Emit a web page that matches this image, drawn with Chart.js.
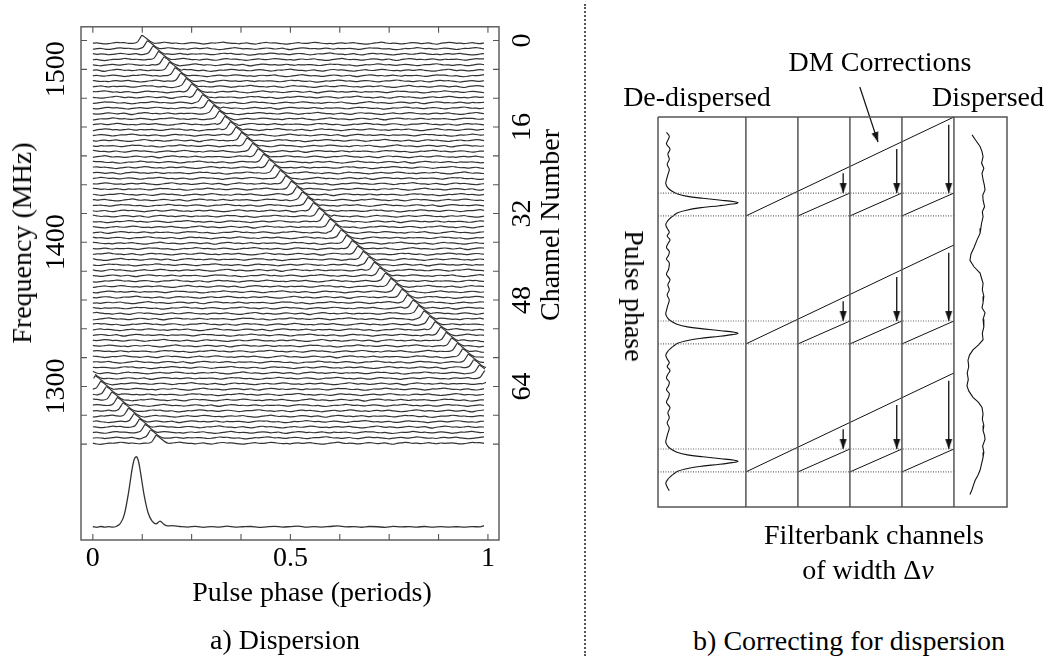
<!DOCTYPE html>
<html>
<head>
<meta charset="utf-8">
<script src="https://cdn.jsdelivr.net/npm/chart.js@4.4.1/dist/chart.umd.min.js"></script>
<style>
body { margin: 0; background: #fff; width: 1048px; height: 656px; position: relative; overflow: hidden;
       font-family: "Liberation Serif", "DejaVu Serif", serif; color: #000; }
.lbl { position: absolute; font-size: 28px; line-height: 1; white-space: nowrap; transform: translate(-50%, -50%); }
.up { transform: translate(-50%, -50%) rotate(-90deg); }
.down { transform: translate(-50%, -50%) rotate(90deg); }
#left { position: absolute; left: 0; top: 0; }
#right { position: absolute; left: 630px; top: 40px; }
#sep { position: absolute; left: 584px; top: 4px; height: 652px; border-left: 2px dotted #555; }
</style>
</head>
<body>
<canvas id="left" width="580" height="580"></canvas>
<canvas id="right" width="400" height="490"></canvas>
<div id="sep"></div>

<div class="lbl up" style="left:22px; top:243px;">Frequency (MHz)</div>
<div class="lbl up" style="left:550px; top:225px;">Channel Number</div>
<div class="lbl" style="left:312px; top:592px;">Pulse phase (periods)</div>
<div class="lbl" style="left:285px; top:640px;">a) Dispersion</div>

<div class="lbl" style="left:880px; top:62px;">DM Corrections</div>
<div class="lbl" style="left:697px; top:97px;">De-dispersed</div>
<div class="lbl" style="left:988px; top:97px;">Dispersed</div>
<div class="lbl down" style="left:634px; top:296px;">Pulse phase</div>
<div class="lbl" style="left:874px; top:535px;">Filterbank channels</div>
<div class="lbl" style="left:868px; top:570px;">of width &Delta;<i>v</i></div>
<div class="lbl" style="left:849px; top:641px;">b) Correcting for dispersion</div>

<script>
// ---- panel a: dispersed pulse in each filterbank channel ----

// phase of the pulse peak in channels 0..74 (wraps after phase 1)
const pulsePhase = [
    0.124, 0.138, 0.152, 0.166, 0.180, 0.194, 0.208, 0.222, 0.236, 0.250,
    0.264, 0.278, 0.292, 0.306, 0.320, 0.334, 0.348, 0.362, 0.376, 0.390,
    0.404, 0.418, 0.432, 0.446, 0.460, 0.474, 0.488, 0.502, 0.516, 0.530,
    0.544, 0.558, 0.572, 0.586, 0.600, 0.614, 0.628, 0.642, 0.656, 0.670,
    0.684, 0.698, 0.712, 0.726, 0.740, 0.754, 0.768, 0.782, 0.796, 0.810,
    0.824, 0.838, 0.852, 0.866, 0.880, 0.894, 0.908, 0.922, 0.936, 0.950,
    0.964, 0.978, 0.992, 0.006, 0.020, 0.034, 0.048, 0.062, 0.076, 0.090,
    0.104, 0.118, 0.132, 0.146, 0.160
];

// single channel pulse (phase offset from peak, height in channel spacings)
const pulseOffset = [-0.020, -0.011, -0.004, 0, 0.006, 0.014, 0.022, 0.031];
const pulseHeight = [0.0, 0.25, 1.0, 1.45, 1.2, 0.75, 0.3, 0.0];

// hand read baseline wiggle, reused with a shift for every channel
const noise = [
    0.02, 0.05, -0.03, -0.12, -0.08, 0.04, 0.15, 0.09, 0.11, -0.02, -0.06, 0.01, -0.14, -0.20,
    -0.10, 0.03, 0.00, 0.07, 0.18, 0.12, -0.01, 0.04, -0.05, -0.09, 0.02, 0.10, 0.06, -0.04,
    -0.16, -0.07, 0.05, 0.03, 0.12, 0.20, 0.08, -0.03, -0.01, -0.11, 0.00, 0.06, -0.08, -0.15,
    -0.05, 0.09, 0.14, 0.04, 0.07, -0.02, -0.10, -0.18, -0.06, 0.02, 0.10, 0.00, -0.04, 0.06,
    0.16, 0.11, 0.00, -0.08, -0.03, -0.12, 0.03, 0.08, -0.01, 0.05, 0.13, -0.02, -0.09, -0.17,
    -0.11, 0.01, 0.09, 0.19, 0.07, -0.05, 0.02, -0.03, -0.13, -0.06, 0.04, 0.12, 0.05, -0.07,
    0.00, 0.08, -0.10, -0.19, -0.04, 0.06, 0.15, 0.10, -0.02, 0.03, -0.06, 0.01, 0.11, 0.00,
    -0.09, 0.04, -0.01
];

// de-dispersed (summed) profile at the bottom
const sumPhase = [
    0, 0.01, 0.02, 0.03, 0.04, 0.05, 0.06, 0.07, 0.08, 0.09, 0.10, 0.105, 0.11, 0.115, 0.12,
    0.13, 0.14, 0.15, 0.16, 0.17, 0.18, 0.19, 0.20,
    0.22, 0.24, 0.26, 0.28, 0.30, 0.32, 0.34, 0.36, 0.38, 0.40, 0.42, 0.44, 0.46, 0.48, 0.50,
    0.52, 0.54, 0.56, 0.58, 0.60, 0.62, 0.64, 0.66, 0.68, 0.70, 0.72, 0.74, 0.76, 0.78, 0.80,
    0.82, 0.84, 0.86, 0.88, 0.90, 0.92, 0.94, 0.96, 0.98, 0.99
];
const sumHeight = [
    0.05, -0.05, 0.10, 0.00, 0.08, -0.02, 0.15, 0.7, 2.4, 6.2, 11.0, 12.6, 13.0, 12.3, 10.4,
    5.8, 2.6, 1.1, 0.6, 1.1, 0.5, 0.2, 0.25,
    0.10, 0.00, 0.12, -0.05, 0.08, 0.00, 0.15, -0.03, 0.05, 0.10, -0.06, 0.04, 0.12, 0.00, 0.08,
    0.18, -0.02, 0.06, 0.00, 0.10, 0.20, 0.02, 0.08, -0.04, 0.10, 0.05, -0.05, 0.12, 0.03, 0.08,
    0.00, 0.10, -0.03, 0.06, 0.00, 0.05, -0.02, 0.08, 0.02, 0.25
];

const phaseTicks = [0, 0.125, 0.25, 0.375, 0.5, 0.625, 0.75, 0.875, 1];
const phaseTickLabels = ['0', '', '', '', '0.5', '', '', '', '1'];
const channelTicks = [0, 5.33, 10.67, 16, 21.33, 26.67, 32, 37.33, 42.67, 48, 53.33, 58.67, 64, 69.33, 74.67];
const freqTickLabels = ['', '1500', '', '', '', '', '', '1400', '', '', '', '', '1300', '', ''];
const channelTickLabels = ['0', '', '', '16', '', '', '32', '', '', '48', '', '', '64', '', ''];

// ---- panel b: schematic, x in filterbank channels, y in pulse periods ----
const boxEdges = { left: -1.69, right: 5.02, top: 0, bottom: 3.047 };
const channelEdges = [0, 1, 2, 3, 4];
const periods = [0, 1, 2];
const pulseWindow = [0.594, 0.773];          // dotted lines, phase within a period
const arrowChannelX = [1.87, 2.9, 3.9];
const arrowStart = [0.44, 0.25, 0.06];
const dmArrow = [{ x: 2.19, y: -0.234 }, { x: 2.54, y: 0.195 }];

// de-dispersed profile, one period around the peak
const dedispPeaks = [-0.32, 0.67, 1.69, 2.69];
const dedispOffset = [
    -0.5, -0.46, -0.42, -0.38, -0.34, -0.3, -0.26, -0.22, -0.18, -0.15, -0.117, -0.09, -0.07,
    -0.05, -0.035, -0.02, -0.008, 0, 0.01, 0.023, 0.04, 0.06, 0.078, 0.1, 0.117, 0.14, 0.17,
    0.2, 0.23, 0.26, 0.29, 0.32, 0.35, 0.38, 0.41, 0.44, 0.47
];
const dedispFlux = [
    0.01, -0.02, 0.03, 0.00, 0.02, -0.01, 0.02, 0.00, -0.02, -0.03, 0.00, 0.06, 0.13,
    0.28, 0.50, 0.76, 0.95, 1.00, 0.92, 0.74, 0.45, 0.25, 0.14, 0.08, 0.04, 0.00, -0.03,
    -0.01, 0.02, -0.01, 0.03, 0.00, -0.02, 0.02, 0.01, -0.02, 0.02
];

// dispersed profile
const dispPhase = [
    0.14, 0.18, 0.23, 0.27, 0.31, 0.36, 0.40, 0.44, 0.49, 0.53, 0.57, 0.61, 0.65, 0.70, 0.74, 0.78,
    0.83, 0.87, 0.91, 0.96, 1.02, 1.07, 1.12, 1.17, 1.22, 1.26, 1.30, 1.35, 1.40, 1.45, 1.49, 1.53,
    1.58, 1.64, 1.69, 1.74, 1.78, 1.82, 1.86, 1.90, 1.95, 2.00, 2.05, 2.10, 2.14, 2.19, 2.23, 2.27,
    2.32, 2.36, 2.41, 2.45, 2.49, 2.52, 2.57, 2.62, 2.66, 2.71, 2.76, 2.80, 2.84, 2.88, 2.91, 2.95
];
const dispFlux = [
    0.27, 0.50, 0.80, 0.93, 1.00, 0.90, 1.05, 0.93, 1.00, 1.08, 1.13, 0.98, 1.00, 1.10, 0.95, 1.00,
    0.90, 0.85, 0.80, 0.60, 0.40, 0.20, 0.13, 0.40, 0.80, 0.90, 1.00, 0.95, 1.05, 1.00, 0.93, 1.13,
    1.00, 1.05, 0.95, 1.00, 0.70, 0.33, 0.10, 0.00, 0.05, -0.05, 0.02, -0.07, 0.05, 0.33, 0.70, 0.93,
    1.00, 0.95, 1.05, 1.00, 1.10, 1.13, 0.97, 1.05, 1.00, 0.90, 0.80, 0.65, 0.47, 0.35, 0.27, 0.13
];


const serif = 'Liberation Serif';
const traceColor = '#333';

// every channel: wiggly baseline with the pulse dropped in at its phase
const binCount = 100;
const traceSets = pulsePhase.map((peak, ch) => {
    const pts = [];
    const lo = pulseOffset[0] - 0.004;
    const hi = pulseOffset[pulseOffset.length - 1] + 0.004;
    for (let i = 0; i < binCount; i++) {
        const p = i / binCount;
        let d = p - peak;
        if (d > 0.5) d -= 1;
        if (d < -0.5) d += 1;
        if (d > lo && d < hi) continue;
        pts.push({ x: p, y: ch + 0.5 - noise[(i + ch * 37) % noise.length] });
    }
    pulseOffset.forEach((o, j) => {
        let p = peak + o;
        if (p >= 1) p -= 1;
        if (p < 0) p += 1;
        if (p > 0.995) return;
        pts.push({ x: p, y: ch + 0.5 - pulseHeight[j] });
    });
    pts.sort((a, b) => a.x - b.x);
    return {
        data: pts,
        borderColor: traceColor,
        borderWidth: 1.2,
        pointRadius: 0,
        tension: 0.2,
        fill: false
    };
});

const sumBaseline = 90.0;
const sumSet = {
    data: sumPhase.map((p, i) => ({ x: p, y: sumBaseline - sumHeight[i] })),
    borderColor: traceColor,
    borderWidth: 1.3,
    pointRadius: 0,
    cubicInterpolationMode: 'monotone',
    fill: false
};

// frame plus inward ticks, like the original plot
const frameTicks = {
    id: 'frameTicks',
    afterDraw(chart) {
        const { ctx, chartArea: a, scales } = chart;
        ctx.save();
        ctx.strokeStyle = '#555';
        ctx.lineWidth = 1.4;
        ctx.strokeRect(a.left, a.top, a.right - a.left, a.bottom - a.top);
        ctx.lineWidth = 1.1;
        ctx.beginPath();
        scales.x.ticks.forEach(t => {
            const px = scales.x.getPixelForValue(t.value);
            ctx.moveTo(px, a.bottom); ctx.lineTo(px, a.bottom - 6);
            ctx.moveTo(px, a.top); ctx.lineTo(px, a.top + 6);
        });
        scales.y.ticks.forEach(t => {
            const py = scales.y.getPixelForValue(t.value);
            ctx.moveTo(a.left, py); ctx.lineTo(a.left + 6, py);
            ctx.moveTo(a.right, py); ctx.lineTo(a.right - 6, py);
        });
        ctx.stroke();
        ctx.restore();
    }
};

const yRange = { min: -2.54, max: 92.4 };
const tickFont = { family: serif, size: 28 };

new Chart(document.getElementById('left'), {
    type: 'line',
    data: { datasets: [...traceSets, sumSet] },
    options: {
        responsive: false,
        animation: false,
        events: [],
        layout: { padding: { top: 16 } },
        plugins: { legend: { display: false }, tooltip: { enabled: false } },
        scales: {
            x: {
                type: 'linear', min: -0.03, max: 1.028,
                grid: { display: false, drawTicks: false },
                border: { display: false },
                afterBuildTicks: s => { s.ticks = phaseTicks.map(v => ({ value: v })); },
                afterFit: s => { s.height = 40; },
                ticks: {
                    autoSkip: false, maxRotation: 0, padding: 2, color: '#000', font: tickFont,
                    callback: (v, i) => phaseTickLabels[i]
                }
            },
            y: {
                type: 'linear', position: 'left', reverse: true, ...yRange,
                grid: { display: false, drawTicks: false },
                border: { display: false },
                afterBuildTicks: s => { s.ticks = channelTicks.map(v => ({ value: v })); },
                afterFit: s => { s.width = 81; },
                ticks: {
                    autoSkip: false, minRotation: 90, maxRotation: 90, crossAlign: 'center',
                    padding: -4, color: '#000', font: tickFont,
                    callback: (v, i) => freqTickLabels[i]
                }
            },
            y2: {
                type: 'linear', position: 'right', reverse: true, ...yRange,
                grid: { display: false, drawTicks: false },
                border: { display: false },
                afterBuildTicks: s => { s.ticks = channelTicks.map(v => ({ value: v })); },
                afterFit: s => { s.width = 81; },
                ticks: {
                    autoSkip: false, minRotation: 90, maxRotation: 90, crossAlign: 'center',
                    padding: 10, color: '#000', font: tickFont,
                    callback: (v, i) => channelTickLabels[i]
                }
            }
        }
    },
    plugins: [frameTicks]
});


// ---- panel b ----

// arrow head image, tip at the centre so it sits on the data point
const head = document.createElement('canvas');
head.width = 9;
head.height = 22;
const hc = head.getContext('2d');
hc.fillStyle = '#111';
hc.beginPath();
hc.moveTo(4.5, 11);
hc.lineTo(1, 1);
hc.lineTo(8, 1);
hc.closePath();
hc.fill();

const seg = (pts, opts = {}) => Object.assign({
    data: pts,
    showLine: true,
    borderColor: '#111',
    borderWidth: 1,
    pointRadius: 0,
    tension: 0,
    clip: false
}, opts);

const frameStyle = { borderColor: '#555', borderWidth: 1.5 };
const schemeSets = [];

// outer box and channel boundaries
schemeSets.push(seg([
    { x: boxEdges.left, y: boxEdges.top }, { x: boxEdges.right, y: boxEdges.top },
    { x: boxEdges.right, y: boxEdges.bottom }, { x: boxEdges.left, y: boxEdges.bottom },
    { x: boxEdges.left, y: boxEdges.top }
], frameStyle));
channelEdges.forEach(c => {
    schemeSets.push(seg([{ x: c, y: boxEdges.top }, { x: c, y: boxEdges.bottom }], frameStyle));
});

periods.forEach(k => {
    // dotted pulse window
    pulseWindow.forEach(w => {
        schemeSets.push(seg([{ x: boxEdges.left, y: k + w }, { x: 4, y: k + w }],
            { borderColor: '#666', borderWidth: 1.2, borderDash: [1, 1.5] }));
    });
    // dispersion sweep across the band
    schemeSets.push(seg([{ x: 0, y: k + pulseWindow[1] }, { x: 4, y: k }]));
    // corrected pulse inside each channel
    [1, 2, 3].forEach(j => {
        schemeSets.push(seg([{ x: j, y: k + pulseWindow[1] }, { x: j + 1, y: k + pulseWindow[0] }]));
    });
    // delay corrections
    arrowChannelX.forEach((ax, j) => {
        schemeSets.push(seg([{ x: ax, y: k + arrowStart[j] }, { x: ax, y: k + pulseWindow[0] }],
            { borderWidth: 1.3, pointRadius: [0, 4], pointStyle: head }));
    });
});

schemeSets.push(seg(dmArrow, { borderWidth: 1.2, pointRadius: [0, 4], pointStyle: head, pointRotation: -18 }));

// de-dispersed profile
const dedispBase = -1.5, dedispScale = 1.346;
const dedispPts = [];
dedispPeaks.forEach(pk => {
    dedispOffset.forEach((o, i) => {
        const y = pk + o;
        if (y < 0.117 || y > 2.93) return;
        dedispPts.push({ x: dedispBase + dedispFlux[i] * dedispScale, y });
    });
});
schemeSets.push(seg(dedispPts, { borderWidth: 1.1, tension: 0.35 }));

// dispersed profile
const dispBase = 4.27, dispScale = 0.29;
schemeSets.push(seg(dispPhase.map((p, i) => ({ x: dispBase + dispFlux[i] * dispScale, y: p })),
    { borderWidth: 1.1 }));

new Chart(document.getElementById('right'), {
    type: 'scatter',
    data: { datasets: schemeSets },
    options: {
        responsive: false,
        animation: false,
        events: [],
        layout: { padding: { left: 28, top: 77, right: 23, bottom: 23 } },
        plugins: { legend: { display: false }, tooltip: { enabled: false } },
        scales: {
            x: { type: 'linear', display: false, min: boxEdges.left, max: boxEdges.right },
            y: { type: 'linear', display: false, min: boxEdges.top, max: boxEdges.bottom, reverse: true }
        }
    }
});
</script>
</body>
</html>
